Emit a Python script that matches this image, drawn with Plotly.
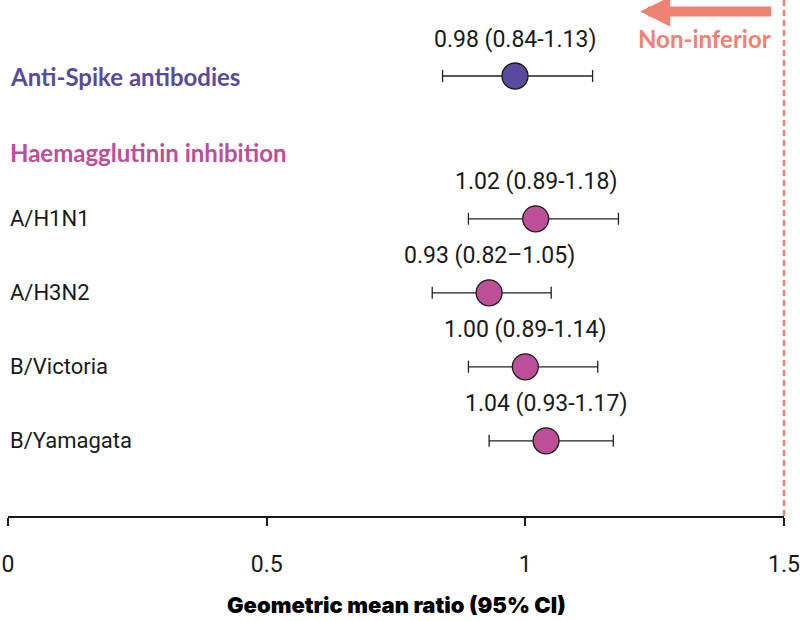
import plotly.graph_objects as go

# data
rows = ["Anti-Spike antibodies", "A/H1N1", "A/H3N2", "B/Victoria", "B/Yamagata"]
gmr = [0.98, 1.02, 0.93, 1.00, 1.04]
ci_low = [0.84, 0.89, 0.82, 0.89, 0.93]
ci_high = [1.13, 1.18, 1.05, 1.14, 1.17]
ci_text = ["0.98 (0.84-1.13)", "1.02 (0.89-1.18)", "0.93 (0.82\u20131.05)",
           "1.00 (0.89-1.14)", "1.04 (0.93-1.17)"]
group = ["spike", "hi", "hi", "hi", "hi"]

# row positions (1 unit = one row gap)
row_pos = [0, 1.93, 2.93, 3.93, 4.93]
header_pos = {"Anti-Spike antibodies": 0, "Haemagglutinin inhibition": 1.04}

x_range = [0, 1.5]
x_ticks = [0, 0.5, 1, 1.5]
x_ticktext = ["0", "0.5", "1", "1.5"]
margin_limit = 1.5

purple = "#5a4a9f"
magenta = "#bd4f98"
salmon = "#ef8272"
colors = {"spike": purple, "hi": magenta}

fig = go.Figure()

# non-inferiority margin (paper ref so it is not clipped at the plot edge)
xm = (margin_limit - x_range[0]) / (x_range[1] - x_range[0])
fig.add_shape(type="line", x0=xm, x1=xm, y0=0, y1=1, xref="paper", yref="paper",
              line=dict(color=salmon, width=2.5, dash="6px,4px"), layer="above")

for i in range(len(rows)):
    fig.add_trace(go.Scatter(
        x=[gmr[i]], y=[row_pos[i]], mode="markers",
        marker=dict(size=26, color=colors[group[i]], line=dict(color="#1a1a1a", width=1.3)),
        error_x=dict(type="data", symmetric=False,
                     array=[ci_high[i] - gmr[i]], arrayminus=[gmr[i] - ci_low[i]],
                     color="#222222", thickness=1.3, width=6),
        showlegend=False, hoverinfo="skip", cliponaxis=False))
    fig.add_annotation(x=gmr[i], y=row_pos[i], text=ci_text[i], showarrow=False,
                       yshift=37, font=dict(family="Roboto", size=23, color="#1a1a1a"))

# left labels
fig.add_annotation(x=0, y=header_pos["Anti-Spike antibodies"], text="Anti-Spike antibodies",
                   showarrow=False, xanchor="left", xref="x",
                   font=dict(family="Lato", size=24, color=purple, weight="bold"))
fig.add_annotation(x=0, y=header_pos["Haemagglutinin inhibition"], text="Haemagglutinin inhibition",
                   showarrow=False, xanchor="left", xref="x",
                   font=dict(family="Lato", size=24, color=magenta, weight="bold"))
for i in range(1, len(rows)):
    fig.add_annotation(x=0, y=row_pos[i], text=rows[i], showarrow=False, xanchor="left",
                       font=dict(family="Roboto", size=22, color="#1a1a1a"))

fig.add_annotation(x=1.222, y=-0.87, ax=1.478, ay=-0.87, xref="x", yref="y", axref="x", ayref="y",
                   text="", showarrow=True, arrowhead=2, arrowsize=0.6, arrowwidth=10,
                   arrowcolor=salmon)
fig.add_annotation(x=1.478, y=-0.51, text="Non-inferior", showarrow=False, xanchor="right",
                   font=dict(family="Lato", size=24, color=salmon, weight="bold"))

# axis title
fig.add_annotation(x=0.5, y=0, xref="paper", yref="paper", yshift=-89, yanchor="middle",
                   showarrow=False, text="Geometric mean ratio (95% CI)",
                   font=dict(family="Inter", size=22, color="#000000", weight=900))

fig.update_xaxes(range=x_range, tickvals=x_ticks, ticktext=x_ticktext, automargin=False,
                 showline=True, linecolor="#1a1a1a", linewidth=1.5,
                 ticks="outside", ticklen=8, tickwidth=1.5, tickcolor="#1a1a1a",
                 showgrid=False, zeroline=False, ticklabelstandoff=19,
                 ticklabeloverflow="allow",
                 tickfont=dict(family="Roboto", size=23, color="#1a1a1a"))
fig.update_yaxes(range=[5.946, -1.027], visible=False, showgrid=False, zeroline=False,
                 automargin=False)

fig.update_layout(width=800, height=621, plot_bgcolor="white", paper_bgcolor="white",
                  margin=dict(l=8, r=16, t=0, b=105))

# drop the default body margin so the figure fills the window
fig.write_html("out.html", config={"displayModeBar": False},
               post_script="document.body.style.margin='0';")
